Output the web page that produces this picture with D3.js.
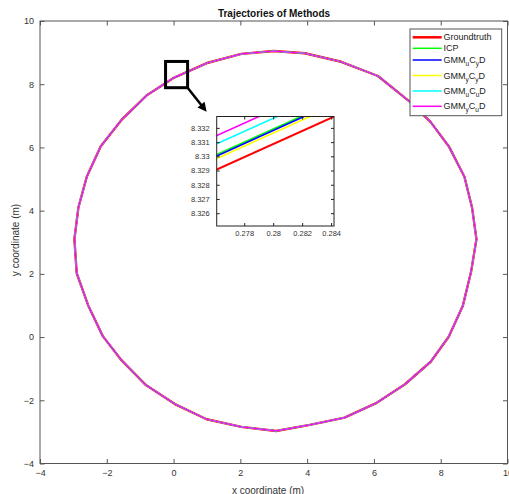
<!DOCTYPE html>
<html><head><meta charset="utf-8">
<script src="https://cdn.jsdelivr.net/npm/d3@7"></script>
<style>
body{margin:0;background:#fff}
svg{display:block}
text{font-family:"Liberation Sans",Arial,Helvetica,sans-serif}
</style>
</head><body>
<svg id="chart" width="509" height="494"></svg>
<script>
// ---------------- data ----------------
// trajectory vertices (all methods coincide at this scale)
const trajX = [0.02, 1.03, 2.03, 3.00, 3.93, 5.02, 6.12, 7.07, 7.70, 8.24, 8.71, 8.94, 9.07,
  8.91, 8.66, 8.24, 7.70, 6.92, 6.05, 5.12, 4.08, 3.07, 2.03, 0.99, 0.04, -0.83, -1.56,
  -2.12, -2.56, -2.90, -2.97, -2.85, -2.60, -2.18, -1.56, -0.79, 0.02];
const trajY = [8.21, 8.68, 8.96, 9.05, 8.98, 8.71, 8.26, 7.45, 6.80, 6.04, 5.07, 4.09, 3.10,
  2.07, 0.98, 0.01, -0.78, -1.50, -2.10, -2.55, -2.78, -2.97, -2.84, -2.60, -2.12, -1.52, -0.73,
  0.03, 1.01, 2.02, 3.10, 4.10, 5.07, 6.04, 6.87, 7.66, 8.21];

const seriesNames = ["Groundtruth", "ICP", "GMMuCyD", "GMMyCyD", "GMMuCuD", "GMMyCuD"];
const seriesColors = ["#ff0000", "#00ff00", "#0000ff", "#ffff00", "#00ffff", "#ff00ff"];
// legend label pieces: [text, isSubscript]
const seriesLabels = [
  [["Groundtruth", 0]],
  [["ICP", 0]],
  [["GMM", 0], ["u", 1], ["C", 0], ["y", 1], ["D", 0]],
  [["GMM", 0], ["y", 1], ["C", 0], ["y", 1], ["D", 0]],
  [["GMM", 0], ["u", 1], ["C", 0], ["u", 1], ["D", 0]],
  [["GMM", 0], ["y", 1], ["C", 0], ["u", 1], ["D", 0]]
];

// zoomed-in detail near (0.28, 8.33): segment end points per series
const insetX = [0.275, 0.285];
const insetYStart = [8.32856, 8.32962, 8.32952, 8.32933, 8.33037, 8.33095];
const insetYEnd   = [8.33316, 8.33422, 8.33412, 8.33393, 8.33497, 8.33555];

const xTicks = [-4, -2, 0, 2, 4, 6, 8, 10];
const yTicks = [-4, -2, 0, 2, 4, 6, 8, 10];
const insetXTicks = [0.278, 0.280, 0.282, 0.284];
const insetXTickLabels = ["0.278", "0.28", "0.282", "0.284"];
const insetYTicks = [8.326, 8.327, 8.328, 8.329, 8.330, 8.331, 8.332];
const insetYTickLabels = ["8.326", "8.327", "8.328", "8.329", "8.33", "8.331", "8.332"];

const zoomBoxX = [-0.24, 0.42];
const zoomBoxY = [7.89, 8.72];
const arrowFrom = [0.42, 7.89];
const arrowTo = [0.99, 7.13];

// ---------------- layout ----------------
const svg = d3.select("#chart");
const L = 40, R = 507.5, T = 21, B = 463.5;
const x = d3.scaleLinear().domain([-4, 10]).range([L, R]);
const y = d3.scaleLinear().domain([-4, 10]).range([B, T]);
const axisColor = "#555", textColor = "#333";

svg.append("rect").attr("width", 509).attr("height", 494).attr("fill", "#fff");

svg.append("defs").append("clipPath").attr("id", "mainClip")
  .append("rect").attr("x", L).attr("y", T).attr("width", R - L).attr("height", B - T);

function styleAxis(g, labels) {
  g.select(".domain").remove();
  g.selectAll(".tick line").attr("stroke", axisColor);
  g.selectAll(".tick text").attr("fill", textColor).style("font-size", "9px")
    .style("font-family", '"Liberation Sans",Arial,Helvetica,sans-serif');
  if (!labels) g.selectAll(".tick text").remove();
}
const tk = 4.5;
svg.append("g").attr("transform", `translate(0,${B})`)
  .call(d3.axisBottom(x).tickValues(xTicks).tickSize(-tk).tickPadding(6).tickFormat(d3.format("d")))
  .call(g => styleAxis(g, true));
svg.append("g").attr("transform", `translate(0,${T})`)
  .call(d3.axisTop(x).tickValues(xTicks).tickSize(-tk))
  .call(g => styleAxis(g, false));
svg.append("g").attr("transform", `translate(${L},0)`)
  .call(d3.axisLeft(y).tickValues(yTicks).tickSize(-tk).tickPadding(6).tickFormat(d3.format("d")))
  .call(g => styleAxis(g, true));
svg.append("g").attr("transform", `translate(${R},0)`)
  .call(d3.axisRight(y).tickValues(yTicks).tickSize(-tk))
  .call(g => styleAxis(g, false));
svg.append("rect").attr("x", L).attr("y", T).attr("width", R - L).attr("height", B - T)
  .attr("fill", "none").attr("stroke", axisColor).attr("stroke-width", 1);

// trajectories
const pts = trajX.map((d, i) => [d, trajY[i]]);
const line = d3.line().x(d => x(d[0])).y(d => y(d[1]));
const trajG = svg.append("g").attr("clip-path", "url(#mainClip)");
seriesNames.forEach((name, i) => {
  trajG.append("path").datum(pts).attr("d", line)
    .attr("fill", "none").attr("stroke", seriesColors[i])
    .attr("stroke-width", i === 0 ? 2.4 : 1.2).attr("stroke-linejoin", "round");
});

// zoom box + arrow
svg.append("rect")
  .attr("x", x(zoomBoxX[0])).attr("y", y(zoomBoxY[1]))
  .attr("width", x(zoomBoxX[1]) - x(zoomBoxX[0])).attr("height", y(zoomBoxY[0]) - y(zoomBoxY[1]))
  .attr("fill", "none").attr("stroke", "#000").attr("stroke-width", 3);
{
  const x0 = x(arrowFrom[0]), y0 = y(arrowFrom[1]), x1 = x(arrowTo[0]), y1 = y(arrowTo[1]);
  const ang = Math.atan2(y1 - y0, x1 - x0), hl = 9, hw = 4.5;
  const bx = x1 - hl * Math.cos(ang), by = y1 - hl * Math.sin(ang);
  svg.append("line").attr("x1", x0).attr("y1", y0).attr("x2", bx + Math.cos(ang)).attr("y2", by + Math.sin(ang))
    .attr("stroke", "#000").attr("stroke-width", 2.5);
  svg.append("path").attr("d", `M${x1},${y1}L${bx - hw * Math.sin(ang)},${by + hw * Math.cos(ang)}L${bx + hw * Math.sin(ang)},${by - hw * Math.cos(ang)}Z`)
    .attr("fill", "#000");
}

// inset
const iL = 216.7, iR = 334, iT = 116.5, iB = 226;
const ix = d3.scaleLinear().domain([0.2761, 0.2842]).range([iL, iR]);
const iy = d3.scaleLinear().domain([8.3251, 8.3328]).range([iB, iT]);
svg.append("rect").attr("x", iL).attr("y", iT).attr("width", iR - iL).attr("height", iB - iT).attr("fill", "#fff");
svg.select("defs").append("clipPath").attr("id", "insetClip")
  .append("rect").attr("x", iL).attr("y", iT).attr("width", iR - iL).attr("height", iB - iT);
const insetG = svg.append("g").attr("clip-path", "url(#insetClip)");
seriesNames.forEach((name, i) => {
  const seg = insetX.map((d, k) => [d, k === 0 ? insetYStart[i] : insetYEnd[i]]);
  insetG.append("path").datum(seg)
    .attr("d", d3.line().x(d => ix(d[0])).y(d => iy(d[1])))
    .attr("fill", "none").attr("stroke", seriesColors[i]).attr("stroke-width", i === 0 ? 2 : 1.6);
});
function styleInset(g, labels) {
  g.select(".domain").remove();
  g.selectAll(".tick line").attr("stroke", "#222");
  g.selectAll(".tick text").attr("fill", textColor).style("font-size", "7.5px")
    .style("font-family", '"Liberation Sans",Arial,Helvetica,sans-serif');
  if (!labels) g.selectAll(".tick text").remove();
}
svg.append("g").attr("transform", `translate(0,${iB})`)
  .call(d3.axisBottom(ix).tickValues(insetXTicks).tickSize(-3).tickPadding(5).tickFormat((d, i) => insetXTickLabels[i]))
  .call(g => styleInset(g, true));
svg.append("g").attr("transform", `translate(${iL},0)`)
  .call(d3.axisLeft(iy).tickValues(insetYTicks).tickSize(-3).tickPadding(7).tickFormat((d, i) => insetYTickLabels[i]))
  .call(g => styleInset(g, true));
svg.append("g").attr("transform", `translate(${iR},0)`)
  .call(d3.axisRight(iy).tickValues(insetYTicks).tickSize(-3))
  .call(g => styleInset(g, false));
svg.append("g").attr("transform", `translate(0,${iT})`)
  .call(d3.axisTop(ix).tickValues(insetXTicks).tickSize(-3))
  .call(g => styleInset(g, false));
svg.append("rect").attr("x", iL).attr("y", iT).attr("width", iR - iL).attr("height", iB - iT)
  .attr("fill", "none").attr("stroke", "#222").attr("stroke-width", 1);

// legend
const lg = svg.append("g");
lg.append("rect").attr("x", 410).attr("y", 29).attr("width", 91.7).attr("height", 86.7)
  .attr("fill", "#fff").attr("stroke", axisColor).attr("stroke-width", 1);
const rowY = [37.3, 48.3, 60.0, 75.5, 91.0, 106.3];
seriesNames.forEach((name, i) => {
  lg.append("line").attr("x1", 412.7).attr("x2", 441.7).attr("y1", rowY[i]).attr("y2", rowY[i])
    .attr("stroke", seriesColors[i]).attr("stroke-width", i === 0 ? 2.5 : 1.5);
  const t = lg.append("text").attr("x", 443.5).attr("y", rowY[i] + 3)
    .attr("fill", "#222").style("font-size", "9px");
  let prevSub = false;
  seriesLabels[i].forEach(([s, sub]) => {
    const ts = t.append("tspan").text(s);
    if (sub) ts.style("font-size", "6.5px");
    if (sub && !prevSub) ts.attr("dy", 3);
    if (!sub && prevSub) ts.attr("dy", -3);
    prevSub = !!sub;
  });
});

// title and labels
svg.append("text").attr("x", 274).attr("y", 17.3).attr("text-anchor", "middle")
  .style("font-size", "10px").style("font-weight", "bold").attr("fill", "#111")
  .text("Trajectories of Methods");
svg.append("text").attr("x", 268).attr("y", 493.5).attr("text-anchor", "middle")
  .style("font-size", "10px").attr("fill", textColor).text("x coordinate (m)");
svg.append("text").attr("transform", "translate(18.5,240) rotate(-90)").attr("text-anchor", "middle")
  .style("font-size", "10px").attr("fill", textColor).text("y coordinate (m)");
</script>
</body></html>
